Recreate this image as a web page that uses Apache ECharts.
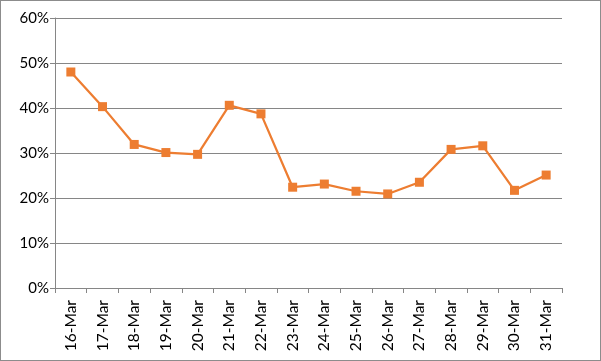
<!DOCTYPE html>
<html><head><meta charset="utf-8">
<script src="https://cdn.jsdelivr.net/npm/echarts@6/dist/echarts.min.js"></script>
<style>html,body{margin:0;padding:0;background:#fff}#c{width:601px;height:361px;box-sizing:border-box;border:1px solid #8c8c8c}</style>
</head><body><div id="c"></div>
<script>
var categories = ['16-Mar','17-Mar','18-Mar','19-Mar','20-Mar','21-Mar','22-Mar','23-Mar','24-Mar','25-Mar','26-Mar','27-Mar','28-Mar','29-Mar','30-Mar','31-Mar'];
var values = [48.0, 40.3, 31.9, 30.1, 29.7, 40.6, 38.7, 22.4, 23.1, 21.5, 20.9, 23.5, 30.8, 31.6, 21.7, 25.1];
var chart = echarts.init(document.getElementById('c'), null, {renderer:'canvas'});
chart.setOption({
  animation:false,
  grid:{left:54, right:38, top:17, bottom:72, containLabel:false},
  xAxis:{type:'category', data:categories, boundaryGap:true,
    axisLine:{lineStyle:{color:'#868686', width:1}},
    axisTick:{show:true, length:5, lineStyle:{color:'#868686'}},
    axisLabel:{rotate:90, color:'#000', fontFamily:'Lato, "Liberation Sans", sans-serif', fontSize:15.5, margin:12, interval:0}},
  yAxis:{type:'value', min:0, max:60, interval:10,
    axisLine:{show:true, lineStyle:{color:'#868686', width:1}},
    axisTick:{show:true, length:5, lineStyle:{color:'#868686'}},
    splitLine:{lineStyle:{color:'#868686', width:1}},
    axisLabel:{formatter:'{value}%', color:'#000', fontFamily:'Lato, "Liberation Sans", sans-serif', fontSize:15, margin:6}},
  series:[{type:'line', data:values, symbol:'rect', symbolSize:9,
    lineStyle:{color:'#ED7D31', width:2.25},
    itemStyle:{color:'#ED7D31'}}]
});
</script></body></html>
